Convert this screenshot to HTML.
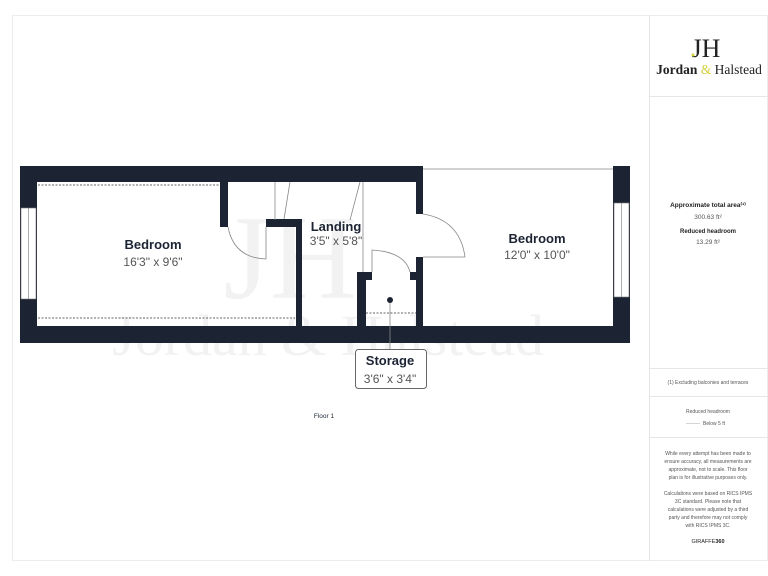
<!DOCTYPE html>
<html><head><meta charset="utf-8"><style>
body{margin:0;width:768px;height:576px;background:#fff;overflow:hidden;font-family:"Liberation Sans",sans-serif}
svg{position:absolute;left:0;top:0}
</style></head><body>
<svg width="768" height="576" viewBox="0 0 768 576" xmlns="http://www.w3.org/2000/svg">
<rect x="12.5" y="15.5" width="755" height="545" fill="none" stroke="#ececec"/>
<line x1="649.5" y1="15" x2="649.5" y2="561" stroke="#e6e6e6"/>
<g stroke="#e6e6e6"><line x1="649" y1="96.5" x2="768" y2="96.5"/><line x1="649" y1="368.5" x2="768" y2="368.5"/><line x1="649" y1="396.5" x2="768" y2="396.5"/><line x1="649" y1="437.5" x2="768" y2="437.5"/></g>
<text x="290" y="298" font-family="Liberation Serif,serif" font-size="120" fill="#f2f2f2" text-anchor="middle">JH</text>
<text x="328" y="355" font-family="Liberation Serif,serif" font-size="58" fill="#f2f2f2" text-anchor="middle">Jordan &amp; Halstead</text>
<g fill="#1c2433">
<rect x="20" y="166" width="403" height="16"/>
<rect x="20" y="166" width="17" height="177"/>
<rect x="20" y="326" width="610" height="17"/>
<rect x="613" y="166" width="17" height="177"/>
<rect x="220" y="182" width="8" height="45"/>
<rect x="266" y="219" width="36" height="8"/>
<rect x="296" y="219" width="6" height="107"/>
<rect x="357" y="272" width="9" height="54"/>
<rect x="357" y="272" width="15" height="8"/>
<rect x="416" y="166" width="7" height="48"/>
<rect x="416" y="257" width="7" height="69"/>
<rect x="410" y="272" width="13" height="8"/>
</g>
<rect x="21" y="208" width="15" height="91" fill="#fff" stroke="#777" stroke-width="0.6"/>
<line x1="28.5" y1="208" x2="28.5" y2="299" stroke="#777" stroke-width="0.6"/>
<rect x="614" y="203" width="15" height="94" fill="#fff" stroke="#777" stroke-width="0.6"/>
<line x1="621.5" y1="203" x2="621.5" y2="297" stroke="#777" stroke-width="0.6"/>
<g stroke="#888" stroke-width="0.8" fill="none">
<line x1="423" y1="169" x2="613" y2="169"/>
<line x1="363" y1="182" x2="363" y2="272"/>
<line x1="275" y1="182" x2="275" y2="220"/><line x1="290" y1="182" x2="284" y2="219"/>
<line x1="360" y1="182" x2="350" y2="220"/>
<path d="M228 227 Q234 258 266 259 L266 227"/>
<path d="M423 214 Q460 220 465 257 L423 257"/>
<path d="M372 272 L372 250 Q405 252 410 272"/>
<line x1="390" y1="300" x2="390" y2="349"/>
</g>
<g stroke="#333" stroke-width="0.8" stroke-dasharray="2,1.5">
<line x1="38" y1="185" x2="220" y2="185"/>
<line x1="38" y1="318" x2="295" y2="318"/>
<line x1="366" y1="313" x2="416" y2="313"/>
</g>
<circle cx="390" cy="300" r="3" fill="#1c2433"/>
<rect x="355.5" y="349.5" width="71" height="39" rx="3" fill="#fff" stroke="#666"/>
<g fill="#1c2433" text-anchor="middle">
<text x="153" y="249" font-size="13" font-weight="bold">Bedroom</text>
<text x="153" y="266" font-size="12" fill="#555">16'3" x 9'6"</text>
<text x="336" y="231" font-size="13" font-weight="bold">Landing</text>
<text x="336" y="245" font-size="12" fill="#555">3'5" x 5'8"</text>
<text x="537" y="243" font-size="13" font-weight="bold">Bedroom</text>
<text x="537" y="259" font-size="12" fill="#555">12'0" x 10'0"</text>
<text x="390" y="365" font-size="13" font-weight="bold">Storage</text>
<text x="390" y="383" font-size="12" fill="#555">3'6" x 3'4"</text>
<text x="324" y="418" font-size="6.5">Floor 1</text>
</g>
<g text-anchor="middle" fill="#222">
<text x="706" y="57" font-family="Liberation Serif,serif" font-size="26">JH</text>
<circle cx="693" cy="55" r="1.5" fill="#d4d43a"/>
<text x="709" y="74" font-family="Liberation Serif,serif" font-size="13.5" font-weight="bold">Jordan <tspan fill="#d4cf3a" font-weight="normal">&amp;</tspan> <tspan font-weight="normal">Halstead</tspan></text>
<text x="708" y="207" font-size="6.5" font-weight="bold">Approximate total area⁽¹⁾</text>
<text x="708" y="219" font-size="6.5" fill="#555">300.63 ft²</text>
<text x="708" y="233" font-size="6" font-weight="bold">Reduced headroom</text>
<text x="708" y="244" font-size="6.5" fill="#555">13.29 ft²</text>
<text x="708" y="384" font-size="5" fill="#555">(1) Excluding balconies and terraces</text>
<text x="708" y="413" font-size="5" fill="#555">Reduced headroom</text>
<text x="714" y="425" font-size="5" fill="#555">Below 5 ft</text>
<line x1="686" y1="423.5" x2="700" y2="423.5" stroke="#aaa" stroke-width="0.5"/>
<g font-size="5" fill="#555">
<text x="708" y="455">While every attempt has been made to</text>
<text x="708" y="463">ensure accuracy, all measurements are</text>
<text x="708" y="471">approximate, not to scale. This floor</text>
<text x="708" y="479">plan is for illustrative purposes only.</text>
<text x="708" y="495">Calculations were based on RICS IPMS</text>
<text x="708" y="503">3C standard. Please note that</text>
<text x="708" y="511">calculations were adjusted by a third</text>
<text x="708" y="519">party and therefore may not comply</text>
<text x="708" y="527">with RICS IPMS 3C.</text>
</g>
<text x="708" y="543" font-size="5.5">GIRAFFE<tspan font-weight="bold">360</tspan></text>
</g>
</svg>
</body></html>
